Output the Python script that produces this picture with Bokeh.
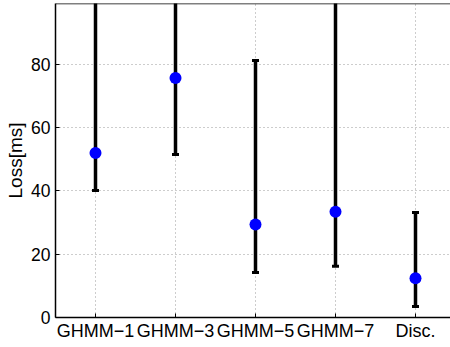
from bokeh.plotting import figure
from bokeh.models import Range1d, FixedTicker, ColumnDataSource, Span
from bokeh.embed import file_html
from bokeh.resources import INLINE

categories = ["GHMM\u22121", "GHMM\u22123", "GHMM\u22125", "GHMM\u22127", "Disc."]
positions = [1, 2, 3, 4, 5]
mean_loss = [52.0, 75.7, 29.4, 33.4, 12.4]
lower_loss = [40.1, 51.5, 14.2, 16.2, 3.5]
upper_loss = [120.0, 120.0, 81.2, 120.0, 33.2]
y_ticks = [0, 20, 40, 60, 80]

FONT = "Liberation Sans"
Y_TOP = 99.2

src = ColumnDataSource(dict(x=positions, m=mean_loss, lo=lower_loss, hi=upper_loss))

p = figure(width=450, height=347, x_range=Range1d(0.5, 5.4375), y_range=Range1d(0, Y_TOP),
           output_backend="svg", toolbar_location=None,
           min_border_left=55, min_border_right=0, min_border_top=3, min_border_bottom=30)

p.outline_line_color = None
p.background_fill_color = "white"
p.border_fill_color = "white"

for ax in (p.xaxis[0], p.yaxis[0]):
    ax.major_tick_in = 4
    ax.major_tick_out = 0
    ax.minor_tick_line_color = None
    ax.axis_line_width = 1.5
    ax.axis_line_color = "black"
    ax.major_tick_line_width = 1
    ax.major_tick_line_color = "black"
    ax.major_label_text_font = FONT
    ax.major_label_text_color = "black"

p.xaxis.major_label_text_font_size = "18px"
p.yaxis.major_label_text_font_size = "17.5px"
p.xaxis.major_label_standoff = 3
p.yaxis.major_label_standoff = 5
p.xaxis.ticker = FixedTicker(ticks=positions)
p.xaxis.major_label_overrides = {pos: lab for pos, lab in zip(positions, categories)}
p.yaxis.ticker = FixedTicker(ticks=y_ticks)
p.yaxis.axis_label = "Loss[ms]"
p.yaxis.axis_label_text_font = FONT
p.yaxis.axis_label_text_font_size = "19px"
p.yaxis.axis_label_text_font_style = "normal"
p.yaxis.axis_label_text_color = "black"
p.yaxis.axis_label_standoff = 2

p.grid.grid_line_color = "#9a9a9a"
p.grid.grid_line_dash = "1 3"
p.grid.grid_line_width = 1

p.segment(x0="x", y0="lo", x1="x", y1="hi", source=src, line_color="black", line_width=3.5)
p.scatter(x="x", y="lo", source=src, marker="dash", size=7, line_width=3, line_color="black")
p.scatter(x="x", y="hi", source=src, marker="dash", size=7, line_width=3, line_color="black")
p.scatter(x="x", y="m", source=src, marker="circle", size=12, fill_color="#0000ff", line_color=None)

p.add_layout(Span(location=Y_TOP, dimension="width", line_color="black", line_width=1.5))

open("out.html", "w").write(file_html(p, INLINE))
